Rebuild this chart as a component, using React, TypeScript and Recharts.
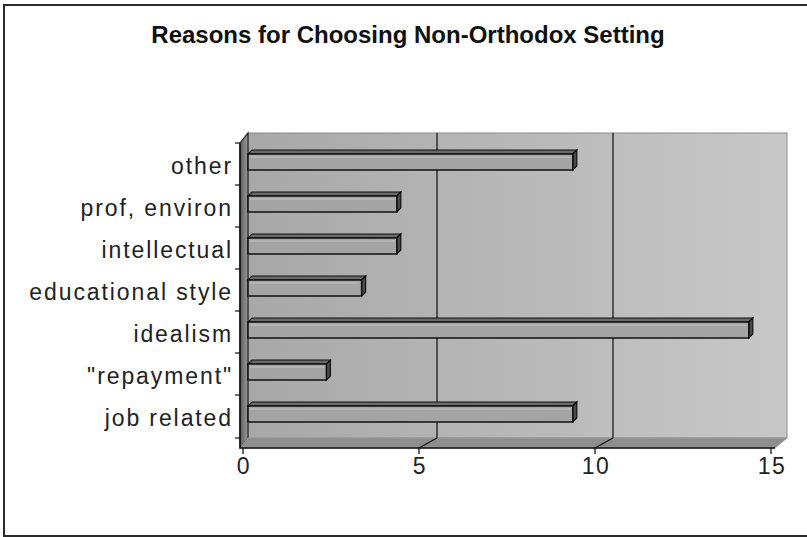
import { BarChart, Bar, XAxis, YAxis, ReferenceArea } from 'recharts';

const CATEGORIES = ['other', 'prof, environ', 'intellectual', 'educational style', 'idealism', '"repayment"', 'job related'];
const COUNTS = [9, 4, 4, 3, 14, 2, 9];
const X_TICKS = [0, 5, 10, 15];
const GRID_VALUES = [5, 10];

const chartData = CATEGORIES.map((name, i) => ({ name, count: COUNTS[i] }));

const FONT = '"Liberation Sans", Arial, sans-serif';

// depth of the fake 3D box (px)
const BACK_DX = 8;
const FRONT_DX = 16;

const Walls = (props: any) => {
  const { x, y, width: w, height: h } = props;
  const top = y - 6;
  const bottom = y + h + 5;
  const front = y + h + 15;
  return (
    <g>
      <defs>
        <linearGradient id="backWall" x1="0" y1="0" x2="1" y2="0">
          <stop offset="0%" stopColor="#a8a8a8" />
          <stop offset="100%" stopColor="#c8c8c8" />
        </linearGradient>
        <linearGradient id="leftWall" x1="0" y1="0" x2="1" y2="0">
          <stop offset="0%" stopColor="#5e5e5e" />
          <stop offset="100%" stopColor="#9a9a9a" />
        </linearGradient>
      </defs>
      <rect x={x - BACK_DX} y={top} width={w + BACK_DX + 3} height={bottom - top} fill="url(#backWall)" stroke="#8a8a8a" strokeWidth={1} />
      <polygon
        points={`${x - FRONT_DX},${y + 4} ${x - BACK_DX},${top} ${x - BACK_DX},${bottom} ${x - FRONT_DX},${front}`}
        fill="url(#leftWall)"
        stroke="#222"
        strokeWidth={1.2}
      />
      <polygon
        points={`${x - FRONT_DX},${front} ${x - BACK_DX},${bottom} ${x + w + 3},${bottom} ${x + w - 9},${front}`}
        fill="#8e8e8e"
        stroke="#9a9a9a"
        strokeWidth={1}
      />
      <line x1={x - FRONT_DX} y1={front} x2={x + w - 9} y2={front} stroke="#111" strokeWidth={1.5} />
      <line x1={x - FRONT_DX} y1={y + 4} x2={x - FRONT_DX} y2={front} stroke="#111" strokeWidth={1.5} />
    </g>
  );
};

const GridLine = (props: any) => {
  const { x, y, width: w, height: h } = props;
  return <line x1={x + w + 5} y1={y - 6} x2={x + w + 5} y2={y + h + 5} stroke="#1a1a1a" strokeWidth={1.3} />;
};

const Bar3D = (props: any) => {
  const { x, y, width: w, height: h } = props;
  const d = 4;
  const left = x - BACK_DX;
  return (
    <g>
      <polygon
        points={`${left},${y + d} ${left + d},${y} ${x + w + d},${y} ${x + w},${y + d}`}
        fill="#6a6a6a"
        stroke="#111"
        strokeWidth={1.2}
      />
      <polygon
        points={`${x + w},${y + d} ${x + w + d},${y} ${x + w + d},${y + h - d} ${x + w},${y + h}`}
        fill="#4a4a4a"
        stroke="#111"
        strokeWidth={1.2}
      />
      <rect x={left} y={y + d} width={x + w - left} height={h - d} fill="#a4a4a4" stroke="#111" strokeWidth={1.5} />
      <line x1={left + 2} y1={y + d + 3} x2={x + w - 2} y2={y + d + 3} stroke="#c4c4c4" strokeWidth={1} />
    </g>
  );
};

const XTick = (props: any) => {
  const { x, y, payload } = props;
  const fx = x - 13;
  const inner = payload.value !== X_TICKS[0] && payload.value !== X_TICKS[X_TICKS.length - 1];
  return (
    <g>
      <line x1={fx} y1={y} x2={fx} y2={y + 6} stroke="#111" strokeWidth={1.3} />
      {inner && <line x1={fx} y1={y} x2={x + 5} y2={y - 10} stroke="#111" strokeWidth={1.2} />}
      <text x={fx + 1} y={y + 26} textAnchor="middle" fontSize={23} letterSpacing={1.5} fontFamily={FONT} fill="#222">
        {payload.value}
      </text>
    </g>
  );
};

const YTick = (props: any) => {
  const { x, y, payload, index } = props;
  const edge = x + 17 - FRONT_DX + 6;
  return (
    <g>
      <line x1={edge - 5} y1={y - 17} x2={edge} y2={y - 17} stroke="#111" strokeWidth={1.2} />
      {index === CATEGORIES.length - 1 && <line x1={edge - 5} y1={y + 26} x2={edge} y2={y + 26} stroke="#111" strokeWidth={1.2} />}
      <text x={x} y={y} dy={14} textAnchor="end" fontSize={23} letterSpacing={1.9} fontFamily={FONT} fill="#222">
        {payload.value}
      </text>
    </g>
  );
};

const App = () => {
  return (
    <div style={{ position: 'absolute', left: 0, top: 0, width: 807, height: 537, background: '#fff', overflow: 'hidden' }}>
      <div
        style={{
          position: 'absolute',
          left: 3,
          top: 4,
          width: 804,
          height: 529,
          borderLeft: '2px solid #2a2a2a',
          borderTop: '2px solid #2a2a2a',
          borderBottom: '2px solid #2a2a2a',
        }}
      />
      <div
        style={{
          position: 'absolute',
          left: 0,
          width: 816,
          top: 21,
          textAlign: 'center',
          fontFamily: FONT,
          fontWeight: 'bold',
          fontSize: 24,
          color: '#111',
        }}
      >
        Reasons for Choosing Non-Orthodox Setting
      </div>
      <div style={{ position: 'absolute', left: 0, top: 0 }}>
        <BarChart width={807} height={537} layout="vertical" data={chartData} margin={{ top: 139, right: 23, bottom: 0, left: 0 }} barSize={20}>
          <ReferenceArea x1={0} x2={15} shape={Walls} ifOverflow="visible" />
          {GRID_VALUES.map((v) => (
            <ReferenceArea key={v} x1={0} x2={v} shape={GridLine} ifOverflow="visible" />
          ))}
          <XAxis
            type="number"
            domain={[0, 15]}
            ticks={X_TICKS}
            height={104}
            axisLine={false}
            tickLine={false}
            tickSize={0}
            tickMargin={15}
            tick={XTick}
            interval={0}
          />
          <YAxis
            type="category"
            dataKey="name"
            width={256}
            axisLine={false}
            tickLine={false}
            tickSize={0}
            tickMargin={23}
            tick={YTick}
            interval={0}
          />
          <Bar dataKey="count" shape={Bar3D} isAnimationActive={false} />
        </BarChart>
      </div>
    </div>
  );
};

export default App;
